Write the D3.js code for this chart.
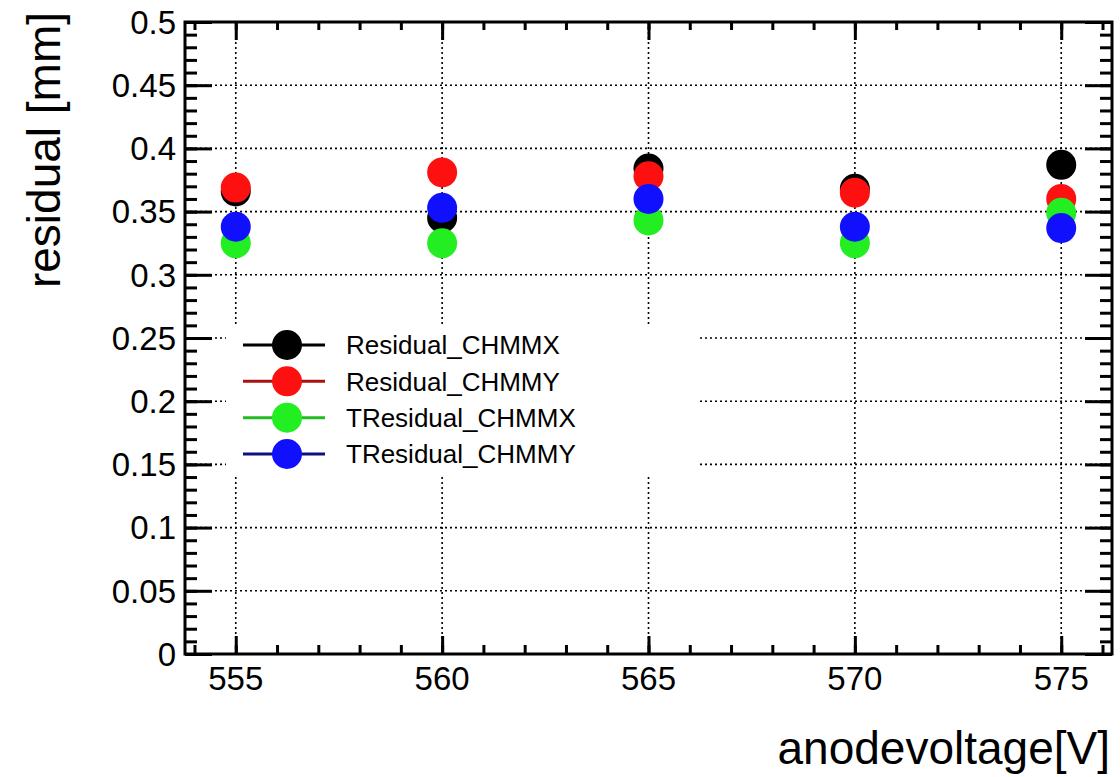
<!DOCTYPE html>
<html>
<head>
<meta charset="utf-8">
<script src="https://d3js.org/d3.v7.min.js"></script>
<style>
  body { margin: 0; background: #fff; }
  text { font-family: "Liberation Sans", Arial, sans-serif; fill: #000; }
</style>
</head>
<body>
<svg id="my_svg" width="1120" height="777"></svg>
<script>
  // data
  var voltages = [555, 560, 565, 570, 575]
  var residualX = [0.366, 0.345, 0.384, 0.368, 0.387]
  var residualY = [0.369, 0.381, 0.378, 0.365, 0.360]
  var tresidualX = [0.325, 0.325, 0.343, 0.325, 0.349]
  var tresidualY = [0.338, 0.353, 0.360, 0.338, 0.337]
  var seriesNames = ['Residual_CHMMX', 'Residual_CHMMY', 'TResidual_CHMMX', 'TResidual_CHMMY']
  var markerColors = ['#000000', '#ff1010', '#22ee22', '#1010ff']
  var lineColors = ['#000000', '#aa1010', '#22bb22', '#101080']
  var yTicks = [0, 0.05, 0.1, 0.15, 0.2, 0.25, 0.3, 0.35, 0.4, 0.45, 0.5]

  var series = [residualX, residualY, tresidualX, tresidualY]

  // frame edges (not named top/left: window.top is reserved)
  var fLeft = 185, fRight = 1112, fTop = 22, fBottom = 654
  var xs = d3.scaleLinear().domain([553.77, 576.23]).range([fLeft, fRight])
  var ys = d3.scaleLinear().domain([0, 0.5]).range([fBottom, fTop])

  var svg = d3.select('#my_svg')

  // grid
  var grid = svg.append('g')
  grid.selectAll('line.gx')
    .data(voltages)
    .enter().append('line')
    .attr('x1', d => xs(d)).attr('x2', d => xs(d))
    .attr('y1', fTop).attr('y2', fBottom)
    .attr('stroke', '#000').attr('stroke-width', 1.6)
    .attr('stroke-dasharray', '2,3')
  grid.selectAll('line.gy')
    .data(yTicks.slice(1, -1))
    .enter().append('line')
    .attr('x1', fLeft).attr('x2', fRight)
    .attr('y1', d => ys(d)).attr('y2', d => ys(d))
    .attr('stroke', '#000').attr('stroke-width', 1.6)
    .attr('stroke-dasharray', '2,3')

  // axes, ROOT style ticks on all four sides
  var xMinor = d3.range(554, 577, 1)
  var yMinor = d3.range(0, 51, 1).map(d => d / 100)

  svg.append('g').attr('transform', 'translate(0,' + fBottom + ')')
    .call(d3.axisTop(xs).tickValues(xMinor).tickSize(9).tickFormat(''))
  svg.append('g').attr('transform', 'translate(0,' + fBottom + ')')
    .call(d3.axisTop(xs).tickValues(voltages).tickSize(18).tickFormat(''))
  svg.append('g').attr('transform', 'translate(0,' + fTop + ')')
    .call(d3.axisBottom(xs).tickValues(xMinor).tickSize(8).tickFormat(''))
  svg.append('g').attr('transform', 'translate(0,' + fTop + ')')
    .call(d3.axisBottom(xs).tickValues(voltages).tickSize(18).tickFormat(''))

  svg.append('g').attr('transform', 'translate(' + fLeft + ',0)')
    .call(d3.axisRight(ys).tickValues(yMinor).tickSize(12).tickFormat(''))
  svg.append('g').attr('transform', 'translate(' + fLeft + ',0)')
    .call(d3.axisRight(ys).tickValues(yTicks).tickSize(27).tickFormat(''))
  svg.append('g').attr('transform', 'translate(' + fRight + ',0)')
    .call(d3.axisLeft(ys).tickValues(yMinor).tickSize(12).tickFormat(''))
  svg.append('g').attr('transform', 'translate(' + fRight + ',0)')
    .call(d3.axisLeft(ys).tickValues(yTicks).tickSize(27).tickFormat(''))

  svg.selectAll('.tick line').attr('stroke', '#000').attr('stroke-width', 3)
  svg.selectAll('.domain').remove()

  // frame
  svg.append('rect')
    .attr('x', fLeft).attr('y', fTop)
    .attr('width', fRight - fLeft).attr('height', fBottom - fTop)
    .attr('fill', 'none').attr('stroke', '#000').attr('stroke-width', 3)

  // tick labels
  svg.append('g').selectAll('text')
    .data(yTicks)
    .enter().append('text')
    .attr('x', fLeft - 9)
    .attr('y', d => ys(d))
    .attr('dy', '0.36em')
    .attr('text-anchor', 'end')
    .attr('font-size', 33)
    .text(d => d3.format('~g')(d))

  svg.append('g').selectAll('text')
    .data(voltages)
    .enter().append('text')
    .attr('x', d => xs(d))
    .attr('y', 690)
    .attr('text-anchor', 'middle')
    .attr('font-size', 33)
    .text(d => d)

  // axis titles
  svg.append('text')
    .attr('x', 1110).attr('y', 764)
    .attr('text-anchor', 'end')
    .attr('font-size', 46)
    .text('anodevoltage[V]')

  svg.append('text')
    .attr('transform', 'translate(60,12) rotate(-90)')
    .attr('text-anchor', 'end')
    .attr('font-size', 46)
    .text('residual [mm]')

  // markers
  series.forEach(function (vals, i) {
    svg.append('g').selectAll('circle')
      .data(vals)
      .enter().append('circle')
      .attr('cx', (d, j) => xs(voltages[j]))
      .attr('cy', d => ys(d))
      .attr('r', 15)
      .attr('fill', markerColors[i])
  })

  // legend
  var leg = svg.append('g')
  leg.append('rect')
    .attr('x', 226).attr('y', 324)
    .attr('width', 474).attr('height', 150)
    .attr('fill', '#fff')
  var legRows = d3.scaleLinear().domain([0, 3]).range([345, 454])
  seriesNames.forEach(function (name, i) {
    var yy = legRows(i)
    leg.append('line')
      .attr('x1', 243).attr('x2', 325)
      .attr('y1', yy).attr('y2', yy)
      .attr('stroke', lineColors[i]).attr('stroke-width', 3)
    leg.append('circle')
      .attr('cx', 287).attr('cy', yy).attr('r', 15)
      .attr('fill', markerColors[i])
    leg.append('text')
      .attr('x', 346).attr('y', yy)
      .attr('dy', '0.36em')
      .attr('font-size', 26)
      .text(name)
  })
</script>
</body>
</html>
